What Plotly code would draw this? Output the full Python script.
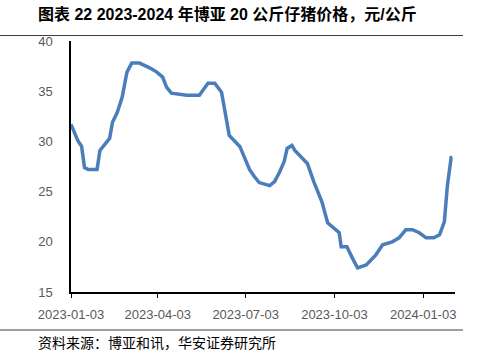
import plotly.graph_objects as go

dates = ["2023-01-03","2023-01-10","2023-01-14","2023-01-17","2023-01-21","2023-01-30",
         "2023-02-02","2023-02-09","2023-02-12","2023-02-15","2023-02-20","2023-02-25",
         "2023-03-02","2023-03-07","2023-03-15","2023-03-26","2023-04-02","2023-04-08",
         "2023-04-12","2023-04-17","2023-05-03","2023-05-16","2023-05-20","2023-05-25",
         "2023-06-01","2023-06-08","2023-06-11","2023-06-16","2023-06-27","2023-07-02",
         "2023-07-07","2023-07-12","2023-07-17","2023-07-28","2023-08-02","2023-08-07",
         "2023-08-12","2023-08-15","2023-08-20","2023-08-23","2023-08-30","2023-09-05",
         "2023-09-12","2023-09-20","2023-09-26","2023-10-08","2023-10-10","2023-10-16",
         "2023-10-21","2023-10-27","2023-11-05","2023-11-15","2023-11-22","2023-12-02",
         "2023-12-09","2023-12-16","2023-12-23","2023-12-30","2024-01-06","2024-01-14",
         "2024-01-20","2024-01-25","2024-01-28","2024-02-01","2024-02-02"]
prices = [31.7,30.1,29.5,27.4,27.2,27.2,
          29.1,29.9,30.3,31.9,32.9,34.4,
          36.9,37.8,37.8,37.3,36.9,36.4,
          35.4,34.8,34.6,34.6,35.1,35.8,
          35.8,34.9,33.3,30.6,29.5,28.3,
          27.2,26.5,25.9,25.6,26.0,26.9,
          28.0,29.3,29.6,29.1,28.4,27.8,
          25.9,24.0,21.9,20.9,19.5,19.5,
          18.5,17.4,17.7,18.7,19.7,20.0,
          20.4,21.2,21.2,20.9,20.4,20.4,
          20.7,22.0,25.5,28.4,28.4]

title_text = "<b>图表 22 2023-2024 年博亚 20 公斤仔猪价格，元/公斤</b>"
source_text = "资料来源：博亚和讯，华安证券研究所"

fig = go.Figure()
fig.add_trace(go.Scatter(x=dates, y=prices, mode="lines",
                         line=dict(color="#4a7ebb", width=3.5, shape="linear"),
                         showlegend=False, hoverinfo="skip"))

fig.update_layout(
    width=479, height=355,
    margin=dict(l=71, r=24, t=41, b=63),
    paper_bgcolor="white", plot_bgcolor="white",
    font=dict(family="Liberation Sans, Arial, Noto Sans CJK SC", size=13, color="#595959"),
    xaxis=dict(range=["2023-01-03", "2024-02-05"], tick0="2023-01-03", dtick="M3",
               tickformat="%Y-%m-%d", showgrid=False, zeroline=False,
               showline=True, linecolor="#000000", linewidth=1.5,
               ticks="outside", ticklen=4, tickcolor="#000000", tickwidth=1,
               ticklabelstandoff=6,
               tickfont=dict(size=13, color="#595959")),
    yaxis=dict(range=[15, 40], dtick=5, showgrid=False, zeroline=False,
               showline=True, linecolor="#000000", linewidth=1.5,
               ticks="", ticklabelstandoff=14,
               tickfont=dict(size=13, color="#595959")),
)

fig.add_annotation(xref="paper", yref="paper", x=-35/384, y=1 + 27/251, xanchor="left", yanchor="middle",
                   text=title_text, showarrow=False,
                   font=dict(family="Liberation Sans, Noto Sans CJK SC", size=16, color="#000000"))
fig.add_annotation(xref="paper", yref="paper", x=-35/384, y=-50/251, xanchor="left", yanchor="middle",
                   text=source_text, showarrow=False,
                   font=dict(family="Noto Sans CJK SC", size=14, color="#000000"))

fig.add_shape(type="line", xref="paper", yref="paper", x0=-71/384, x1=392/384,
              y0=1 + 5.5/251, y1=1 + 5.5/251, line=dict(color="#404040", width=1))
fig.add_shape(type="line", xref="paper", yref="paper", x0=-71/384, x1=392/384,
              y0=-38/251, y1=-38/251, line=dict(color="#404040", width=1))

fig.write_html("out.html")
